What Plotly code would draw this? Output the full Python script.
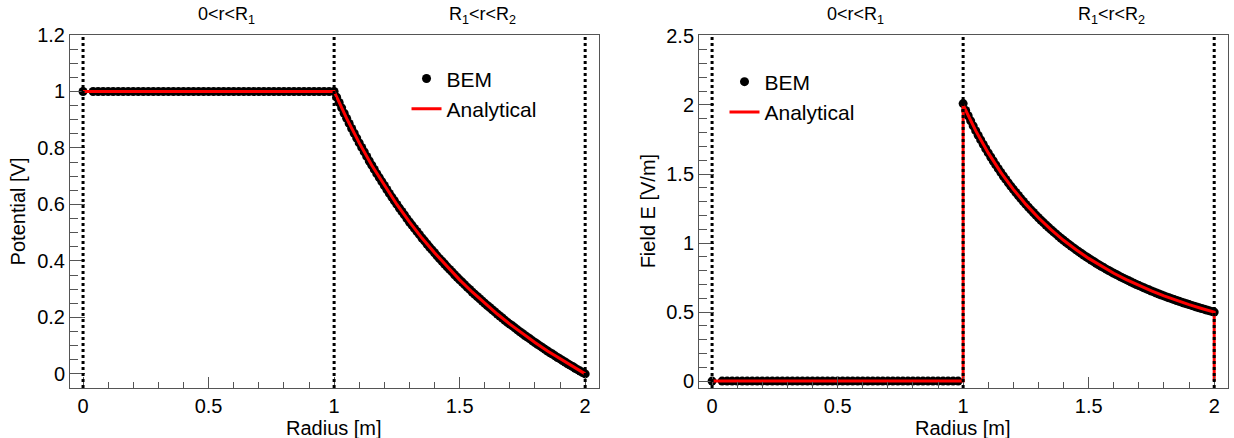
import plotly.graph_objects as go

# ---- radii sampled by the BEM solver ----
r_origin = [0.0]
r_inner = [0.04, 0.06, 0.08, 0.10, 0.12, 0.14, 0.16, 0.18, 0.20, 0.22, 0.24, 0.26,
           0.28, 0.30, 0.32, 0.34, 0.36, 0.38, 0.40, 0.42, 0.44, 0.46, 0.48, 0.50,
           0.52, 0.54, 0.56, 0.58, 0.60, 0.62, 0.64, 0.66, 0.68, 0.70, 0.72, 0.74,
           0.76, 0.78, 0.80, 0.82, 0.84, 0.86, 0.88, 0.90, 0.92, 0.94, 0.96, 0.98]
r_outer = [1.00, 1.01, 1.02, 1.03, 1.04, 1.05, 1.06, 1.07, 1.08, 1.09,
           1.10, 1.11, 1.12, 1.13, 1.14, 1.15, 1.16, 1.17, 1.18, 1.19,
           1.20, 1.21, 1.22, 1.23, 1.24, 1.25, 1.26, 1.27, 1.28, 1.29,
           1.30, 1.31, 1.32, 1.33, 1.34, 1.35, 1.36, 1.37, 1.38, 1.39,
           1.40, 1.41, 1.42, 1.43, 1.44, 1.45, 1.46, 1.47, 1.48, 1.49,
           1.50, 1.51, 1.52, 1.53, 1.54, 1.55, 1.56, 1.57, 1.58, 1.59,
           1.60, 1.61, 1.62, 1.63, 1.64, 1.65, 1.66, 1.67, 1.68, 1.69,
           1.70, 1.71, 1.72, 1.73, 1.74, 1.75, 1.76, 1.77, 1.78, 1.79,
           1.80, 1.81, 1.82, 1.83, 1.84, 1.85, 1.86, 1.87, 1.88, 1.89,
           1.90, 1.91, 1.92, 1.93, 1.94, 1.95, 1.96, 1.97, 1.98, 1.99,
           2.00]

# ---- BEM potential [V] ----
pot_origin = [1.0]
pot_inner = [1.0, 1.0, 1.0, 1.0, 1.0, 1.0, 1.0, 1.0, 1.0, 1.0, 1.0, 1.0,
             1.0, 1.0, 1.0, 1.0, 1.0, 1.0, 1.0, 1.0, 1.0, 1.0, 1.0, 1.0,
             1.0, 1.0, 1.0, 1.0, 1.0, 1.0, 1.0, 1.0, 1.0, 1.0, 1.0, 1.0,
             1.0, 1.0, 1.0, 1.0, 1.0, 1.0, 1.0, 1.0, 1.0, 1.0, 1.0, 1.0]
pot_outer = [1.000, 0.980, 0.961, 0.942, 0.923, 0.905, 0.887, 0.869, 0.852, 0.835,
             0.818, 0.802, 0.786, 0.770, 0.754, 0.739, 0.724, 0.709, 0.695, 0.681,
             0.667, 0.653, 0.639, 0.626, 0.613, 0.600, 0.587, 0.575, 0.563, 0.550,
             0.538, 0.527, 0.515, 0.504, 0.493, 0.481, 0.471, 0.460, 0.449, 0.439,
             0.429, 0.418, 0.408, 0.399, 0.389, 0.379, 0.370, 0.361, 0.351, 0.342,
             0.333, 0.325, 0.316, 0.307, 0.299, 0.290, 0.282, 0.274, 0.266, 0.258,
             0.250, 0.242, 0.235, 0.227, 0.220, 0.212, 0.205, 0.198, 0.190, 0.183,
             0.176, 0.170, 0.163, 0.156, 0.149, 0.143, 0.136, 0.130, 0.124, 0.117,
             0.111, 0.105, 0.099, 0.093, 0.087, 0.081, 0.075, 0.070, 0.064, 0.058,
             0.053, 0.047, 0.042, 0.036, 0.031, 0.026, 0.020, 0.015, 0.010, 0.005,
             0.000]

# ---- BEM field [V/m] ----
field_origin = [0.0]
field_inner = [0.0, 0.0, 0.0, 0.0, 0.0, 0.0, 0.0, 0.0, 0.0, 0.0, 0.0, 0.0,
               0.0, 0.0, 0.0, 0.0, 0.0, 0.0, 0.0, 0.0, 0.0, 0.0, 0.0, 0.0,
               0.0, 0.0, 0.0, 0.0, 0.0, 0.0, 0.0, 0.0, 0.0, 0.0, 0.0, 0.0,
               0.0, 0.0, 0.0, 0.0, 0.0, 0.0, 0.0, 0.0, 0.0, 0.0, 0.0, 0.0]
field_outer = [2.010, 1.961, 1.922, 1.885, 1.849, 1.814, 1.780, 1.747, 1.715, 1.683,
               1.653, 1.623, 1.594, 1.566, 1.539, 1.512, 1.486, 1.461, 1.436, 1.412,
               1.389, 1.366, 1.344, 1.322, 1.301, 1.280, 1.260, 1.240, 1.221, 1.202,
               1.183, 1.165, 1.148, 1.131, 1.114, 1.097, 1.081, 1.066, 1.050, 1.035,
               1.020, 1.006, 0.992, 0.978, 0.965, 0.951, 0.938, 0.926, 0.913, 0.901,
               0.889, 0.877, 0.866, 0.854, 0.843, 0.832, 0.822, 0.811, 0.801, 0.791,
               0.781, 0.772, 0.762, 0.753, 0.744, 0.735, 0.726, 0.717, 0.709, 0.700,
               0.692, 0.684, 0.676, 0.668, 0.661, 0.653, 0.646, 0.638, 0.631, 0.624,
               0.617, 0.610, 0.604, 0.597, 0.591, 0.584, 0.578, 0.572, 0.566, 0.560,
               0.554, 0.548, 0.543, 0.537, 0.531, 0.526, 0.521, 0.515, 0.510, 0.505,
               0.500]

# ---- analytical solution ----
r_ana_pot = [0.0, 1.00, 1.05, 1.10, 1.15, 1.20, 1.25, 1.30, 1.35, 1.40, 1.45,
             1.50, 1.55, 1.60, 1.65, 1.70, 1.75, 1.80, 1.85, 1.90, 1.95, 2.00]
pot_ana = [1.0, 1.000, 0.905, 0.818, 0.739, 0.667, 0.600, 0.538, 0.481, 0.429, 0.379,
           0.333, 0.290, 0.250, 0.212, 0.176, 0.143, 0.111, 0.081, 0.053, 0.026, 0.000]

r_ana_field = [0.0, 1.00, 1.00, 1.05, 1.10, 1.15, 1.20, 1.25, 1.30, 1.35, 1.40, 1.45,
               1.50, 1.55, 1.60, 1.65, 1.70, 1.75, 1.80, 1.85, 1.90, 1.95, 2.00, 2.00]
field_ana = [0.0, 0.0, 2.000, 1.814, 1.653, 1.512, 1.389, 1.280, 1.183, 1.097, 1.020, 0.951,
             0.889, 0.832, 0.781, 0.735, 0.692, 0.653, 0.617, 0.584, 0.554, 0.526, 0.500, 0.0]

# region boundaries (R0 = 0, R1, R2) and region labels
boundaries = [0.0, 1.0, 2.0]
region_labels = ["0&lt;r&lt;R<sub>1</sub>", "R<sub>1</sub>&lt;r&lt;R<sub>2</sub>"]
region_label_x = [0.45, 1.45]

FONT = "Liberation Sans, Arial, Helvetica, sans-serif"
FRAME = "#555555"

fig = go.Figure()

panels = [
    ("x", "y", "legend", r_origin + r_inner + r_outer, pot_origin + pot_inner + pot_outer,
     r_ana_pot, pot_ana),
    ("x2", "y2", "legend2", r_origin + r_inner + r_outer, field_origin + field_inner + field_outer,
     r_ana_field, field_ana),
]

for xa, ya, leg, rb, vb, ra, va in panels:
    fig.add_trace(go.Scatter(
        x=rb, y=vb, mode="markers", name="BEM", xaxis=xa, yaxis=ya, legend=leg,
        marker=dict(color="black", size=9, line=dict(width=0)),
    ))
    fig.add_trace(go.Scatter(
        x=ra, y=va, mode="lines", name="Analytical", xaxis=xa, yaxis=ya, legend=leg,
        line=dict(color="#ff0000", width=3),
    ))
    for b in boundaries:
        fig.add_shape(type="line", xref=xa, yref=ya + " domain", x0=b, x1=b, y0=0, y1=1,
                      line=dict(color="black", width=3, dash="dot"), layer="above")
    for lbl, lx in zip(region_labels, region_label_x):
        fig.add_annotation(text=lbl, xref=xa, yref="paper", x=lx, y=1.054,
                           xanchor="left", yanchor="middle", showarrow=False,
                           font=dict(size=18, color="black", family=FONT))
    fig.add_annotation(text="Radius [m]", xref=xa, yref="paper", x=1.0, y=-0.112,
                       xanchor="center", yanchor="middle", showarrow=False,
                       font=dict(size=20, color="black", family=FONT))

fig.add_annotation(text="Potential [V]", xref="paper", yref="paper", x=-0.045, y=0.5,
                   textangle=-90, xanchor="center", yanchor="middle", showarrow=False,
                   font=dict(size=20, color="black", family=FONT))
fig.add_annotation(text="Field E [V/m]", xref="paper", yref="paper", x=0.499, y=0.5,
                   textangle=-90, xanchor="center", yanchor="middle", showarrow=False,
                   font=dict(size=20, color="black", family=FONT))

xcommon = dict(
    range=[-0.052, 2.055], showline=True, linecolor=FRAME, linewidth=1, mirror=True,
    ticks="inside", ticklen=11, tickwidth=1, tickcolor=FRAME, tick0=0, dtick=0.5,
    minor=dict(ticks="inside", ticklen=6, tickcolor=FRAME, dtick=0.1, tick0=0, showgrid=False),
    showgrid=False, zeroline=False, tickfont=dict(size=20, color="black", family=FONT),
)
ycommon = dict(
    showline=True, linecolor=FRAME, linewidth=1, mirror=True,
    ticks="inside", ticklen=15, tickwidth=1, tickcolor=FRAME, tick0=0,
    showgrid=False, zeroline=False, tickfont=dict(size=20, color="black", family=FONT),
)

fig.update_layout(
    width=1234, height=438,
    margin=dict(l=70, r=6, t=35, b=50),
    paper_bgcolor="white", plot_bgcolor="white",
    font=dict(family=FONT, color="black"),
    xaxis=dict(domain=[0, 0.4568], anchor="y", **xcommon),
    yaxis=dict(domain=[0, 1], anchor="x", range=[-0.05, 1.2], dtick=0.2,
               minor=dict(ticks="inside", ticklen=8, tickcolor=FRAME, dtick=0.05, tick0=0,
                          showgrid=False),
               **ycommon),
    xaxis2=dict(domain=[0.5432, 1], anchor="y2", **xcommon),
    yaxis2=dict(domain=[0, 1], anchor="x2", range=[-0.05, 2.507], dtick=0.5,
                minor=dict(ticks="inside", ticklen=8, tickcolor=FRAME, dtick=0.1, tick0=0,
                           showgrid=False),
                **ycommon),
    legend=dict(x=0.2906, y=0.934, xanchor="left", yanchor="top", bgcolor="rgba(0,0,0,0)",
                font=dict(size=21, family=FONT, color="black"), tracegroupgap=0),
    legend2=dict(x=0.5652, y=0.925, xanchor="left", yanchor="top", bgcolor="rgba(0,0,0,0)",
                 font=dict(size=21, family=FONT, color="black"), tracegroupgap=0),
)

fig.write_html("out.html")
